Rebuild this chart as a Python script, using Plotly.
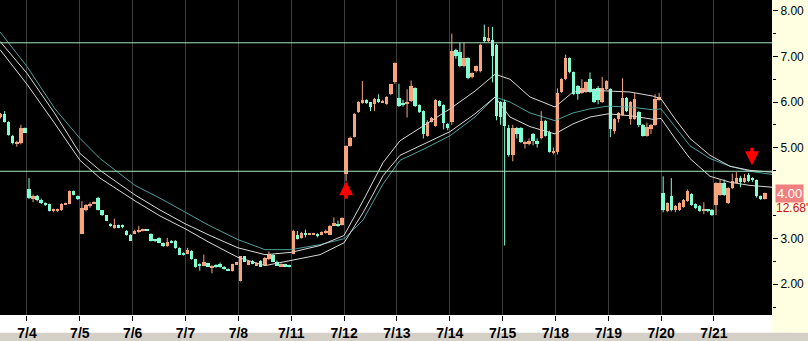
import numpy as np
import plotly.graph_objects as go

# ---------------- data ----------------
day_labels = ['7/4', '7/5', '7/6', '7/7', '7/8', '7/11', '7/12', '7/13',
              '7/14', '7/15', '7/18', '7/19', '7/20', '7/21']
bars_per_day = 13

# 30-minute bars: 7 bars of the previous session, then 13 bars per day
opens = [
    5.68, 5.74, 5.56, 5.26, 5.10, 5.09, 5.43,
    4.09, 3.88, 3.94, 3.86, 3.78, 3.76, 3.61, 3.62, 3.62, 3.76, 3.77, 4.05, 3.94,
    3.11, 3.62, 3.73, 3.78, 3.89, 3.62, 3.51, 3.33, 3.24, 3.30, 3.30, 3.18, 3.09,
    3.11, 3.15, 3.18, 3.19, 3.11, 2.98, 3.02, 2.91, 2.83, 2.96, 2.96, 2.80, 2.69,
    2.67, 2.74, 2.55, 2.45, 2.41, 2.46, 2.36, 2.42, 2.44, 2.38, 2.34, 2.29, 2.44,
    2.07, 2.61, 2.43, 2.52, 2.41, 2.52, 2.43, 2.56, 2.65, 2.50, 2.40, 2.44, 2.42,
    2.67, 3.09, 3.02, 3.11, 3.09, 3.10, 3.10, 3.09, 3.12, 3.09, 3.30, 3.32, 3.30,
    4.43, 5.04, 5.24, 5.78, 5.98, 6.04, 5.99, 5.96, 6.07, 6.00, 5.96, 6.17, 6.43,
    6.09, 5.98, 5.97, 6.02, 6.30, 5.93, 5.80, 5.26, 5.57, 5.48, 6.02, 5.93, 5.52,
    5.57, 7.15, 7.09, 6.78, 6.96, 6.54, 6.67, 6.67, 7.43, 7.33, 7.37, 7.26, 6.00,
    6.00, 5.43, 4.83, 5.43, 5.43, 5.07, 5.07, 5.30, 5.15, 5.20, 5.59, 5.35, 4.90,
    4.91, 6.22, 6.50, 6.96, 6.65, 6.35, 6.20, 6.22, 6.50, 6.28, 6.30, 6.00, 6.28,
    6.28, 5.37, 5.63, 5.72, 6.09, 5.63, 5.63, 5.78, 5.50, 5.26, 5.40, 5.50, 6.05,
    4.00, 3.60, 3.93, 3.62, 3.63, 3.70, 3.83, 3.98, 3.76, 3.72, 3.61, 3.63, 3.63,
    3.74, 3.96, 4.22, 3.78, 4.11, 4.22, 4.33, 4.24, 4.39, 4.33, 4.28, 3.93, 3.87,
]
highs = [
    5.76, 5.80, 5.58, 5.28, 5.15, 5.50, 5.44,
    4.33, 3.97, 3.96, 3.88, 3.80, 3.77, 3.66, 3.66, 3.78, 3.79, 4.06, 4.06, 3.95,
    3.82, 3.76, 3.80, 3.82, 3.92, 3.63, 3.52, 3.34, 3.44, 3.31, 3.31, 3.19, 3.10,
    3.20, 3.28, 3.22, 3.20, 3.12, 2.99, 3.03, 2.92, 3.02, 2.97, 2.97, 2.81, 2.70,
    2.80, 2.75, 2.56, 2.46, 2.65, 2.47, 2.42, 2.44, 2.48, 2.40, 2.35, 2.45, 2.49,
    2.62, 2.62, 2.53, 2.53, 2.48, 2.53, 2.60, 2.72, 2.66, 2.52, 2.46, 2.45, 2.43,
    3.20, 3.17, 3.15, 3.20, 3.12, 3.13, 3.12, 3.16, 3.20, 3.30, 3.47, 3.40, 3.47,
    5.05, 5.24, 5.76, 6.02, 6.46, 6.06, 6.00, 6.09, 6.17, 6.05, 6.13, 6.40, 6.87,
    6.40, 6.05, 6.28, 6.47, 6.32, 5.95, 5.82, 5.60, 5.67, 6.06, 6.04, 5.95, 5.54,
    7.50, 7.17, 7.30, 7.30, 6.98, 6.65, 6.80, 7.28, 7.70, 7.65, 7.65, 7.28, 6.02,
    6.05, 5.50, 5.50, 5.45, 5.45, 5.15, 5.20, 5.32, 5.20, 5.80, 5.61, 5.37, 5.00,
    6.30, 6.52, 7.04, 6.98, 6.67, 6.37, 6.50, 6.45, 6.65, 6.30, 6.35, 6.55, 6.48,
    6.30, 5.65, 5.78, 6.52, 6.11, 6.02, 6.20, 5.80, 5.52, 5.55, 5.52, 6.17, 6.20,
    4.37, 3.80, 4.33, 3.74, 3.80, 3.87, 4.08, 4.00, 3.78, 3.74, 3.80, 3.65, 3.65,
    4.24, 4.30, 4.30, 4.13, 4.43, 4.46, 4.38, 4.42, 4.44, 4.35, 4.30, 3.95, 4.01,
]
lows = [
    5.64, 5.55, 5.26, 5.07, 5.02, 5.07, 5.32,
    3.87, 3.80, 3.82, 3.76, 3.72, 3.60, 3.58, 3.59, 3.61, 3.74, 3.76, 3.95, 3.85,
    3.10, 3.60, 3.68, 3.76, 3.62, 3.50, 3.39, 3.26, 3.22, 3.23, 3.23, 3.07, 2.95,
    3.10, 3.13, 3.16, 3.17, 2.94, 2.93, 2.90, 2.82, 2.82, 2.90, 2.78, 2.64, 2.63,
    2.66, 2.54, 2.36, 2.30, 2.40, 2.38, 2.24, 2.36, 2.36, 2.32, 2.29, 2.28, 2.43,
    2.06, 2.49, 2.42, 2.44, 2.40, 2.38, 2.42, 2.53, 2.49, 2.40, 2.39, 2.38, 2.37,
    2.66, 2.98, 3.00, 3.03, 3.08, 3.09, 3.03, 3.08, 3.11, 3.08, 3.29, 3.26, 3.29,
    4.26, 5.02, 5.22, 5.76, 5.96, 5.96, 5.80, 5.80, 5.98, 5.98, 5.94, 6.15, 6.40,
    5.89, 5.90, 5.66, 6.00, 5.89, 5.76, 5.20, 5.24, 5.55, 5.46, 5.90, 5.40, 5.38,
    5.50, 6.95, 6.76, 6.76, 6.50, 6.52, 6.65, 6.65, 7.30, 7.31, 6.43, 5.60, 5.50,
    2.85, 4.80, 4.70, 5.20, 5.10, 4.98, 5.05, 5.05, 5.00, 5.18, 5.24, 4.89, 4.85,
    4.85, 6.20, 6.48, 6.63, 6.15, 6.05, 6.18, 6.20, 6.20, 5.98, 5.95, 5.98, 6.26,
    5.23, 5.30, 5.55, 5.70, 5.78, 5.50, 5.61, 5.45, 5.24, 5.24, 5.30, 5.48, 6.03,
    3.58, 3.58, 3.60, 3.58, 3.61, 3.68, 3.81, 3.72, 3.65, 3.59, 3.54, 3.58, 3.50,
    3.52, 3.94, 3.94, 3.76, 4.09, 4.20, 4.13, 4.22, 4.24, 4.25, 3.90, 3.85, 3.86,
]
closes = [
    5.74, 5.57, 5.28, 5.09, 5.12, 5.43, 5.33,
    3.89, 3.94, 3.84, 3.78, 3.76, 3.61, 3.63, 3.63, 3.76, 3.78, 4.05, 3.96, 3.87,
    3.67, 3.75, 3.76, 3.79, 3.64, 3.51, 3.40, 3.27, 3.30, 3.24, 3.25, 3.08, 2.96,
    3.18, 3.18, 3.19, 3.18, 2.95, 2.95, 2.91, 2.83, 2.93, 2.92, 2.79, 2.65, 2.64,
    2.75, 2.55, 2.37, 2.42, 2.48, 2.39, 2.38, 2.37, 2.37, 2.33, 2.30, 2.44, 2.48,
    2.61, 2.50, 2.52, 2.45, 2.47, 2.39, 2.58, 2.67, 2.50, 2.41, 2.44, 2.39, 2.38,
    3.17, 3.00, 3.13, 3.09, 3.11, 3.12, 3.08, 3.14, 3.17, 3.29, 3.34, 3.27, 3.46,
    5.04, 5.22, 5.74, 6.00, 6.05, 5.98, 5.90, 6.07, 6.00, 6.03, 6.11, 6.39, 6.85,
    5.91, 5.95, 5.99, 6.35, 5.91, 5.78, 5.30, 5.57, 5.65, 6.04, 5.92, 5.54, 5.43,
    7.11, 7.02, 6.78, 6.96, 6.52, 6.63, 6.78, 7.26, 7.33, 7.41, 7.00, 5.70, 5.67,
    5.48, 4.83, 5.43, 5.30, 5.13, 5.13, 5.15, 5.15, 5.07, 5.59, 5.26, 4.91, 4.93,
    6.20, 6.50, 6.96, 6.65, 6.17, 6.17, 6.30, 6.43, 6.22, 6.00, 6.05, 6.30, 6.46,
    5.41, 5.63, 5.76, 6.09, 5.80, 6.00, 6.07, 5.50, 5.26, 5.46, 5.50, 6.07, 6.10,
    3.62, 3.78, 3.63, 3.72, 3.78, 3.85, 4.04, 3.74, 3.67, 3.61, 3.65, 3.61, 3.52,
    4.22, 4.22, 3.96, 4.11, 4.26, 4.33, 4.24, 4.33, 4.26, 4.28, 3.93, 3.89, 4.00,
]

# moving-average lines, sampled along the chart (x in bar units)
ma_x = [-6.64, 0.0, 6.89, 13.04, 17.96, 26.57, 32.72, 38.87, 45.02, 51.91,
        58.55, 64.94, 72.08, 77.98, 82.66, 87.58, 91.76, 97.91, 104.06, 110.21,
        115.13, 118.82, 123.74, 129.89, 134.32, 138.50, 142.93, 148.34, 154.00, 155.97,
        159.41, 163.10, 168.02, 172.94, 177.86, 183.27]
ma_white_a = [7.33, 6.63, 5.74, 4.87, 4.50, 3.96, 3.63, 3.33, 3.07, 2.80,
              2.65, 2.70, 2.85, 3.07, 3.83, 4.67, 5.15, 5.50, 5.85, 6.24,
              6.61, 6.50, 6.11, 5.89, 6.22, 6.26, 6.24, 6.22, 6.13, 6.07,
              5.63, 5.20, 4.83, 4.59, 4.50, 4.46]
ma_white_b = [7.15, 6.39, 5.52, 4.72, 4.33, 3.83, 3.50, 3.22, 2.91, 2.59,
              2.41, 2.52, 2.65, 2.91, 3.57, 4.38, 4.83, 5.09, 5.35, 5.74,
              6.11, 5.67, 5.46, 5.30, 5.52, 5.67, 5.74, 5.70, 5.62, 5.64,
              5.20, 4.76, 4.37, 4.24, 4.17, 4.13]
ma_teal = [7.54, 6.78, 5.85, 5.20, 4.76, 4.17, 3.89, 3.59, 3.28, 2.98,
           2.76, 2.76, 2.87, 3.00, 3.41, 4.20, 4.72, 4.98, 5.26, 5.67,
           6.11, 6.00, 5.76, 5.59, 5.76, 5.85, 5.91, 5.89, 5.83, 5.85,
           5.46, 5.04, 4.76, 4.59, 4.48, 4.41]

h_levels = [7.30, 4.48]
last_price = '4.00'
last_price_value = 4.00
sub_label = "12.68'"
arrow_up = (78.5, 4.26)      # bar position, price of the arrow tip
arrow_down = (178.35, 4.61)

# ---------------- figure ----------------
UP_COL = '#F8A47C'
DN_COL = '#80FFD4'

o = np.array(opens); h = np.array(highs); l = np.array(lows); c = np.array(closes)
n = len(o)
xpos = np.arange(-7, -7 + n) + 0.5
up = c >= o

fig = go.Figure()

for ys, col in [(ma_teal, '#4E9E9E'), (ma_white_a, '#D8D8D8'), (ma_white_b, '#D8D8D8')]:
    fig.add_trace(go.Scatter(x=ma_x, y=ys, mode='lines',
                             line=dict(color=col, width=1), hoverinfo='skip'))

for mask, col in [(up, UP_COL), (~up, DN_COL)]:
    wx, wy = [], []
    for xi, lo, hi in zip(xpos[mask], l[mask], h[mask]):
        wx += [xi, xi, None]
        wy += [lo, hi, None]
    fig.add_trace(go.Scatter(x=wx, y=wy, mode='lines',
                             line=dict(color=col, width=1), hoverinfo='skip'))
    base = np.minimum(o[mask], c[mask])
    height = np.maximum(np.abs(c[mask] - o[mask]), 0.03)
    fig.add_trace(go.Bar(x=xpos[mask], y=height, base=base, width=0.85,
                         marker=dict(color=col, line=dict(width=0))))

shapes = [
    dict(type='rect', xref='paper', yref='paper', x0=1, x1=1.06,
         y0=-18 / 318, y1=1, fillcolor='#FFFFE1', line=dict(width=0), layer='below'),
    dict(type='rect', xref='paper', yref='paper', x0=-0.01, x1=1.06,
         y0=-0.09, y1=-18 / 318, fillcolor='#D4D0C8', line=dict(width=0), layer='below'),
]
for lv in h_levels:
    shapes.append(dict(type='line', xref='paper', yref='y', x0=0, x1=1, y0=lv, y1=lv,
                       line=dict(color='#A8E6BE', width=1), layer='above'))

annotations = [
    dict(x=1, xref='paper', y=last_price_value, yref='y', xanchor='left', yanchor='middle',
         xshift=3, text=last_price, showarrow=False, bgcolor='#F08080', borderpad=1,
         font=dict(family='Liberation Sans, Arial', size=13, color='white')),
    dict(x=1, xref='paper', y=3.67, yref='y', xanchor='left', yanchor='middle',
         xshift=2, text=sub_label, showarrow=False,
         font=dict(family='Liberation Sans, Arial', size=12, color='#CC1010')),
    dict(x=arrow_up[0], y=arrow_up[1], xref='x', yref='y', text='', showarrow=True,
         ax=0, ay=19, arrowhead=2, arrowsize=0.8, arrowwidth=3.5, arrowcolor='#FF0000'),
    dict(x=arrow_down[0], y=arrow_down[1], xref='x', yref='y', text='', showarrow=True,
         ax=0, ay=-19, arrowhead=2, arrowsize=0.8, arrowwidth=3.5, arrowcolor='#FF0000'),
]

fig.update_layout(
    width=808, height=341,
    margin=dict(l=0, r=36, t=0, b=23),
    paper_bgcolor='white', plot_bgcolor='black',
    showlegend=False, barmode='overlay', bargap=0,
    shapes=shapes, annotations=annotations,
    xaxis=dict(range=[-6.64, 183.27],
               tickvals=[k * bars_per_day for k in range(len(day_labels))],
               ticktext=day_labels, showgrid=True, gridcolor='#3C3C3C', gridwidth=1,
               ticks='outside', ticklen=5, tickcolor='black', zeroline=False,
               tickfont=dict(family='Liberation Sans, Arial', size=14, color='black',
                             weight='bold')),
    yaxis=dict(side='right', range=[1.326, 8.239],
               tickvals=[2, 3, 5, 6, 7, 8],
               ticktext=['2.00', '3.00', '5.00', '6.00', '7.00', '8.00'],
               ticks='outside', ticklen=5, tickcolor='black', showgrid=False,
               zeroline=False,
               tickfont=dict(family='Liberation Sans, Arial', size=12, color='black'),
               minor=dict(tickvals=[1.5, 2.5, 3.5, 4.5, 5.5, 6.5, 7.5], ticks='outside',
                          ticklen=3, tickcolor='black', showgrid=False)),
)

fig.write_html('out.html')
